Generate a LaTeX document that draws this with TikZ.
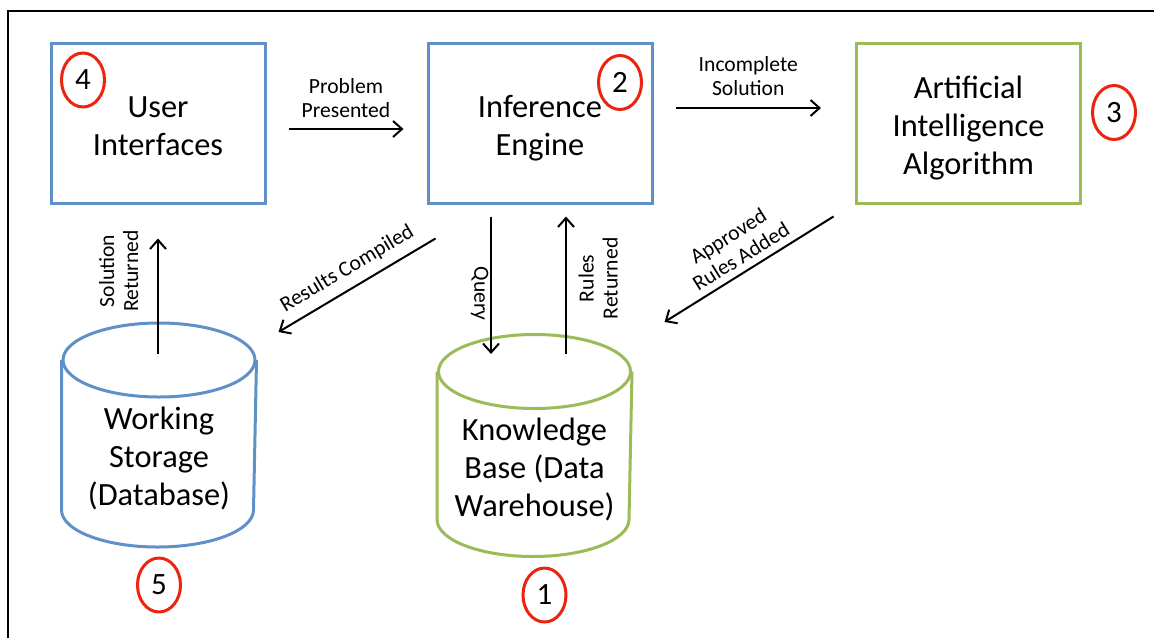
\documentclass[tikz,border=0pt]{standalone}
\usepackage{fontspec}
\setmainfont{Carlito}
\usetikzlibrary{arrows.meta,shapes.geometric,calc}
\definecolor{boxblue}{RGB}{95,145,200}
\definecolor{boxgreen}{RGB}{155,187,89}
\definecolor{numred}{RGB}{235,35,15}
\tikzset{
  blockbox/.style={draw, line width=1.5pt, minimum width=112pt, minimum height=80pt, align=center, text height=32pt, text depth=0pt, font=\fontsize{16.2}{19}\selectfont},
  cyltop/.style={ellipse, draw, line width=1.5pt, minimum width=96pt, minimum height=37pt, inner sep=0pt},
  cyltext/.style={align=center, font=\fontsize{16.2}{19}\selectfont},
  numcirc/.style={ellipse, draw=numred, line width=1.5pt, minimum width=21.5pt, minimum height=27pt, inner sep=0pt, font=\fontsize{15.5}{19}\selectfont},
  flow/.style={line width=1pt, -{Straight Barb[length=4.5pt, width=8pt]}},
  flowlabel/.style={font=\fontsize{10.8}{12}\selectfont, align=center}
}
\begin{document}
\begin{tikzpicture}[x=0.5pt, y=0.5pt]
  \useasboundingbox (0,0) rectangle (1154,-638);
  \draw[line width=0.7pt] (8,-638) -- (8,-11) -- (1154,-11);

  \node[blockbox, draw=boxblue, minimum width=107pt] (ui) at (158,-123) {User\\Interfaces};
  \node[blockbox, draw=boxblue] (ie) at (540,-123) {Inference\\Engine};
  \node[blockbox, draw=boxgreen, text height=51pt] (ai) at (968.5,-123) {Artificial\\Intelligence\\Algorithm};

  \node[cyltop, draw=boxblue] (wstop) at (159,-360) {};
  \draw[boxblue, line width=1.5pt] (wstop.west) -- ++(0,-150) arc[start angle=180, end angle=360, x radius=96, y radius=37] -- (wstop.east);
  \node[cyltext] (ws) at (159,-458) {Working\\Storage\\(Database)};

  \node[cyltop, draw=boxgreen] (kbtop) at (534.5,-371.5) {};
  \draw[boxgreen, line width=1.5pt] (kbtop.west) -- ++(0,-148) arc[start angle=180, end angle=360, x radius=96, y radius=37] -- (kbtop.east);
  \node[cyltext] (kb) at (534.5,-469) {Knowledge\\Base (Data\\Warehouse)};

  \node[numcirc] (n4) at (83,-80) {4};
  \node[numcirc] (n2) at (620,-82.5) {2};
  \node[numcirc] (n3) at (1114,-112.5) {3};
  \node[numcirc] (n5) at (159,-585) {5};
  \node[numcirc] (n1) at (544.5,-595) {1};

  \draw[flow] ($(ui.east)+(22,-6)$) -- node[flowlabel, above=2pt] {Problem\\Presented} ($(ie.west)+(-23,-6)$);
  \draw[flow] ($(ie.east)+(22,15)$) -- node[flowlabel, above=2.5pt] {Incomplete\\Solution} ($(ai.west)+(-34,15)$);
  \draw[flow] ($(wstop.center)+(-1,6)$) -- node[flowlabel, sloped, above=6pt, pos=0.72] {Solution\\Returned} ($(ui.south)+(0,-34)$);
  \draw[flow] ($(ie.south west)+(9,-34)$) -- node[flowlabel, sloped, above=1pt] {Results Compiled} ($(wstop.east)+(22,28)$);
  \draw[flow] ($(ie.south)+(-49,-12)$) -- node[flowlabel, sloped, below=-2.5pt, pos=0.56] {Query} ($(kbtop.center)+(-43.5,17.5)$);
  \draw[flow] ($(kbtop.center)+(31.5,17.5)$) -- node[flowlabel, sloped, below=2.5pt, pos=0.55] {Rules\\Returned} ($(ie.south)+(26,-12)$);
  \draw[flow] ($(ai.south west)+(-21.5,-12)$) -- node[flowlabel, sloped, above] {Approved\\Rules Added} ($(kbtop.east)+(32.5,49.5)$);
\end{tikzpicture}
\end{document}
